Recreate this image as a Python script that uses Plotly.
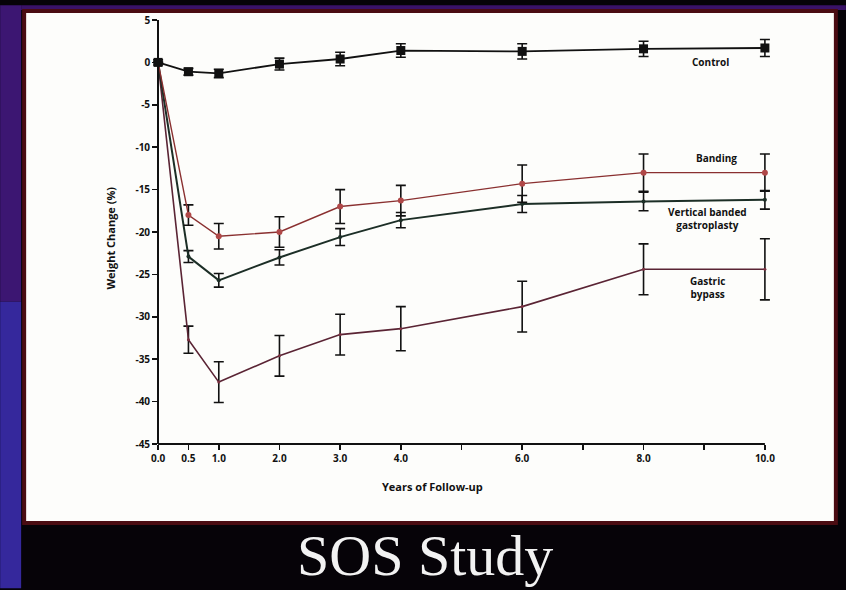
import plotly.graph_objects as go

# ---- data ----
years = [0, 0.5, 1, 2, 3, 4, 6, 8, 10]

control = [0, -1.1, -1.3, -0.2, 0.4, 1.4, 1.3, 1.6, 1.7]
control_err = [0.3, 0.4, 0.5, 0.7, 0.8, 0.8, 0.9, 0.9, 1.0]

banding = [0, -18.0, -20.5, -20.0, -17.0, -16.3, -14.3, -13.0, -13.0]
banding_err = [0, 1.2, 1.5, 1.8, 2.0, 1.8, 2.2, 2.2, 2.2]

vbg = [0, -22.9, -25.7, -23.0, -20.6, -18.6, -16.7, -16.4, -16.2]
vbg_err = [0, 0.7, 0.8, 0.9, 1.0, 0.9, 1.0, 1.1, 1.1]

bypass = [0, -32.7, -37.7, -34.6, -32.1, -31.4, -28.8, -24.4, -24.4]
bypass_err = [0, 1.6, 2.4, 2.4, 2.4, 2.6, 3.0, 3.0, 3.6]

x_tickvals = [0, 0.5, 1, 2, 3, 4, 5, 6, 7, 8, 9, 10]
x_ticktext = ["0.0", "0.5", "1.0", "2.0", "3.0", "4.0", "", "6.0", "", "8.0", "", "10.0"]
y_tickvals = [5, 0, -5, -10, -15, -20, -25, -30, -35, -40, -45]
y_ticktext = ["5", "0", "-5", "-10", "-15", "-20", "-25", "-30", "-35", "-40", "-45"]

series_names = ["Control", "Banding", "Vertical banded<br>gastroplasty", "Gastric<br>bypass"]

# ---- layout geometry (pixels) ----
W, H = 846, 590
X0PX, X10PX, T, B = 158, 765, 15, 444  # pixel of x=0, x=10, y=5, y=-45
PAD = 0.15  # x-range padding (years) so end error bars are not clipped
XMIN, XMAX = -PAD, 10 + PAD
SCALE = (X10PX - X0PX) / 10.0
L = X0PX - PAD * SCALE
R = X10PX + PAD * SCALE


def px(x):
    return (x - L) / (R - L)


def py(y):
    return (B - y) / (B - T)


FONT = "Open Sans"

fig = go.Figure()


def add_series(y, err, line_color, marker, msize, mcolor, lw):
    fig.add_trace(go.Scatter(
        x=years, y=y, mode="lines+markers",
        line=dict(color=line_color, width=lw),
        marker=dict(symbol=marker, size=msize, color=mcolor,
                    line=dict(width=0)),
        error_y=dict(type="data", array=err, visible=True,
                     color="#111111", thickness=1.6, width=5),
        cliponaxis=False, showlegend=False, hoverinfo="skip",
    ))


add_series(bypass, bypass_err, "#5a2434", "circle", 3, "#7a3040", 1.6)
add_series(vbg, vbg_err, "#1c2e26", "circle", 4, "#1c2e26", 2.0)
add_series(banding, banding_err, "#8a3030", "circle", 6, "#b04848", 1.4)
add_series(control, control_err, "#111111", "square", 9, "#111111", 1.8)

# series labels
label_pos = [(9.1, 0.0), (9.2, -11.3), (9.05, -18.4), (9.05, -26.6)]
for name, (lx, ly) in zip(series_names, label_pos):
    fig.add_annotation(x=lx, y=ly, text="<b>" + name + "</b>", showarrow=False,
                       font=dict(family=FONT, size=10, color="#111111"),
                       xanchor="center", yanchor="middle")

# axis titles
fig.add_annotation(xref="paper", yref="paper", x=px(432), y=py(487),
                   xanchor="center", yanchor="middle",
                   text="<b>Years of Follow-up</b>", showarrow=False,
                   font=dict(family=FONT, size=11, color="#111111"))
fig.add_annotation(xref="paper", yref="paper", x=px(110), y=py(236),
                   xanchor="center", yanchor="middle",
                   text="<b>Weight Change (%)</b>", showarrow=False, textangle=-90,
                   font=dict(family=FONT, size=11, color="#111111"))

# slide title
fig.add_annotation(xref="paper", yref="paper", x=px(425), y=py(557),
                   xanchor="center", yanchor="middle",
                   text="SOS Study", showarrow=False,
                   font=dict(family="Liberation Serif", size=58, color="#f2f2f2"))

# background decoration shapes + x axis line (from 0 to 10)
shapes = [
    dict(type="rect", xref="paper", yref="paper", x0=px(0), x1=px(21), y0=py(300), y1=py(0),
         fillcolor="#3c1672", line=dict(width=0), layer="below"),
    dict(type="rect", xref="paper", yref="paper", x0=px(0), x1=px(21), y0=py(590), y1=py(300),
         fillcolor="#35289c", line=dict(width=0), layer="below"),
    dict(type="rect", xref="paper", yref="paper", x0=px(21), x1=px(846), y0=py(5), y1=py(0),
         fillcolor="#3a1268", line=dict(width=0), layer="below"),
    dict(type="rect", xref="paper", yref="paper", x0=px(24), x1=px(836), y0=py(524), y1=py(6),
         fillcolor="#fdfdfb", line=dict(color="#4a0c12", width=4), layer="below"),
    dict(type="line", xref="x", yref="paper", x0=0, x1=10, y0=0, y1=0,
         line=dict(color="#111111", width=2), layer="above"),
]

tickfont = dict(family=FONT, size=10, color="#111111", weight="bold")

fig.update_layout(
    width=W, height=H,
    margin=dict(l=L, r=W - R, t=T, b=H - B, pad=0),
    paper_bgcolor="#060308",
    plot_bgcolor="rgba(0,0,0,0)",
    shapes=shapes,
    xaxis=dict(range=[XMIN, XMAX], tickvals=x_tickvals, ticktext=x_ticktext,
               showgrid=False, zeroline=False, showline=False,
               ticks="outside", ticklen=5, tickwidth=1.5, tickcolor="#111111",
               tickfont=tickfont, fixedrange=True),
    yaxis=dict(range=[-45, 5], tickvals=y_tickvals, ticktext=y_ticktext,
               anchor="free", position=(0 - XMIN) / (XMAX - XMIN),
               showgrid=False, zeroline=False, showline=True, linecolor="#111111",
               linewidth=2, ticks="outside", ticklen=5, tickwidth=1.5, tickcolor="#111111",
               tickfont=tickfont, fixedrange=True),
)

fig.write_html("out.html",
               config={"displayModeBar": False, "staticPlot": True},
               post_script="document.body.style.margin='0';document.body.style.overflow='hidden';")
